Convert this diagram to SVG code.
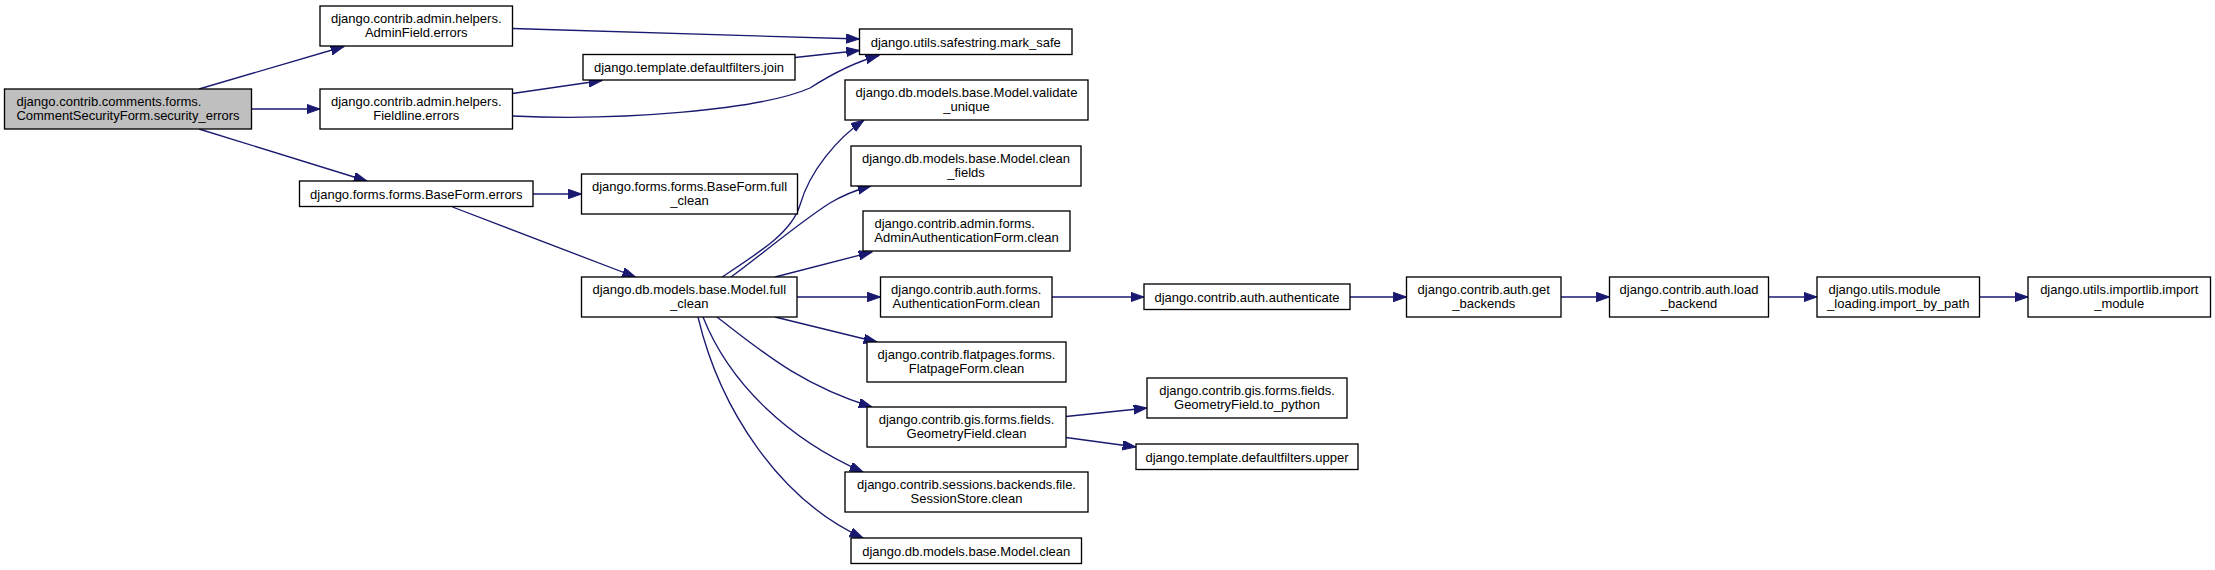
<svg xmlns="http://www.w3.org/2000/svg" width="2215" height="570" viewBox="0 0 2215 570">
<defs>
<style>
.bg{fill:#ffffff}
.node rect{fill:#ffffff;stroke:#000000;stroke-width:1.33}
.node.cur rect{fill:#bfbfbf}
.node text{font-family:"Liberation Sans",Arial,Helvetica,sans-serif;font-size:13px;fill:#000000;text-anchor:middle}
.node text.s{text-anchor:start}
.edges path{fill:none;stroke:#191970;stroke-width:1.33;marker-end:url(#arr)}
</style>
<marker id="arr" markerUnits="userSpaceOnUse" markerWidth="14" markerHeight="10" refX="13.3" refY="4.7" orient="auto">
<path d="M0,0 L13.3,4.7 L0,9.4 z" fill="#191970" stroke="#191970" stroke-width="1"/>
</marker>
</defs>
<rect class="bg" x="0" y="0" width="2215" height="570"/>
<g id="edges" class="edges">
<path d="M199,89 L344,46.5"/>
<path d="M251.5,109 L320,109"/>
<path d="M199,129 L367,181"/>
<path d="M512.5,28.5 L859.5,39"/>
<path d="M512.5,93.5 L602,80.5"/>
<path d="M795,57.5 L859.5,50.5"/>
<path d="M512.5,116 C620,121 760,110 810,88 C835,72 855,62 879,55.5"/>
<path d="M533,194 L581.5,194"/>
<path d="M452.5,207 L635.5,277"/>
<path d="M722,277 C760,252 792,232 800,205 C810,170 838,138 864,120"/>
<path d="M731,277 C765,252 800,222 830,203 C845,194 856,190 871,186"/>
<path d="M775,277 L872,252"/>
<path d="M797,297 L880.5,297"/>
<path d="M775,317 L877,342"/>
<path d="M717,317 C760,350 800,385 872,407"/>
<path d="M703,317 C730,385 790,440 863,472"/>
<path d="M698,317 C720,410 780,500 863,538"/>
<path d="M1052,297 L1144,297"/>
<path d="M1350,297 L1406.5,297"/>
<path d="M1561,297 L1609.5,297"/>
<path d="M1768.5,297 L1817,297"/>
<path d="M1979.5,297 L2028,297"/>
<path d="M1066,416.5 L1147,408"/>
<path d="M1066,437.5 L1136,447"/>
</g>
<g id="n_security_errors" class="node cur"><rect x="4.5" y="89" width="247" height="40"/><text class="s" x="16.5" y="105.5">django.contrib.comments.forms.</text><text x="128" y="119.5">CommentSecurityForm.security_errors</text></g>
<g id="n_adminfield_errors" class="node"><rect x="320" y="6" width="192.5" height="40"/><text x="416.25" y="22.5">django.contrib.admin.helpers.</text><text x="416.25" y="36.5">AdminField.errors</text></g>
<g id="n_fieldline_errors" class="node"><rect x="320" y="89" width="192.5" height="40"/><text x="416.25" y="105.5">django.contrib.admin.helpers.</text><text x="416.25" y="119.5">Fieldline.errors</text></g>
<g id="n_baseform_errors" class="node"><rect x="299.5" y="181" width="233.5" height="25.5"/><text x="416.25" y="198.5">django.forms.forms.BaseForm.errors</text></g>
<g id="n_mark_safe" class="node"><rect x="859.5" y="29" width="212.5" height="25.5"/><text x="965.75" y="46.5">django.utils.safestring.mark_safe</text></g>
<g id="n_join" class="node"><rect x="583" y="54.5" width="212" height="25.5"/><text x="689" y="72">django.template.defaultfilters.join</text></g>
<g id="n_validate_unique" class="node"><rect x="845" y="80" width="243" height="40"/><text x="966.5" y="96.5">django.db.models.base.Model.validate</text><text x="966.5" y="110.5">_unique</text></g>
<g id="n_clean_fields" class="node"><rect x="851" y="146" width="230" height="40"/><text x="966" y="162.5">django.db.models.base.Model.clean</text><text x="966" y="176.5">_fields</text></g>
<g id="n_baseform_full_clean" class="node"><rect x="581.5" y="174" width="216" height="40"/><text x="689.5" y="190.5">django.forms.forms.BaseForm.full</text><text x="689.5" y="204.5">_clean</text></g>
<g id="n_model_full_clean" class="node"><rect x="581.5" y="277" width="215.5" height="40"/><text x="689.25" y="293.5">django.db.models.base.Model.full</text><text x="689.25" y="307.5">_clean</text></g>
<g id="n_admin_auth_clean" class="node"><rect x="863" y="211" width="207" height="40"/><text class="s" x="874.5" y="227.5">django.contrib.admin.forms.</text><text x="966.5" y="241.5">AdminAuthenticationForm.clean</text></g>
<g id="n_auth_form_clean" class="node"><rect x="880.5" y="277" width="171.5" height="40"/><text x="966.25" y="293.5">django.contrib.auth.forms.</text><text x="966.25" y="307.5">AuthenticationForm.clean</text></g>
<g id="n_flatpage_clean" class="node"><rect x="867" y="342" width="199" height="40"/><text x="966.5" y="358.5">django.contrib.flatpages.forms.</text><text x="966.5" y="372.5">FlatpageForm.clean</text></g>
<g id="n_geometry_clean" class="node"><rect x="867" y="407" width="199" height="40"/><text x="966.5" y="423.5">django.contrib.gis.forms.fields.</text><text x="966.5" y="437.5">GeometryField.clean</text></g>
<g id="n_session_clean" class="node"><rect x="845" y="472" width="243" height="40"/><text x="966.5" y="488.5">django.contrib.sessions.backends.file.</text><text x="966.5" y="502.5">SessionStore.clean</text></g>
<g id="n_model_clean" class="node"><rect x="851" y="538" width="230.5" height="25.5"/><text x="966.25" y="555.5">django.db.models.base.Model.clean</text></g>
<g id="n_authenticate" class="node"><rect x="1144" y="284" width="206" height="25.5"/><text x="1247" y="301.5">django.contrib.auth.authenticate</text></g>
<g id="n_get_backends" class="node"><rect x="1406.5" y="277" width="154.5" height="40"/><text x="1483.75" y="293.5">django.contrib.auth.get</text><text x="1483.75" y="307.5">_backends</text></g>
<g id="n_load_backend" class="node"><rect x="1609.5" y="277" width="159" height="40"/><text x="1689" y="293.5">django.contrib.auth.load</text><text x="1689" y="307.5">_backend</text></g>
<g id="n_import_by_path" class="node"><rect x="1817" y="277" width="162.5" height="40"/><text class="s" x="1828.5" y="293.5">django.utils.module</text><text x="1898.25" y="307.5">_loading.import_by_path</text></g>
<g id="n_import_module" class="node"><rect x="2028" y="277" width="182.5" height="40"/><text x="2119.25" y="293.5">django.utils.importlib.import</text><text x="2119.25" y="307.5">_module</text></g>
<g id="n_to_python" class="node"><rect x="1147" y="378" width="200" height="40"/><text x="1247" y="394.5">django.contrib.gis.forms.fields.</text><text x="1247" y="408.5">GeometryField.to_python</text></g>
<g id="n_upper" class="node"><rect x="1136" y="444" width="222" height="25.5"/><text x="1247" y="461.5">django.template.defaultfilters.upper</text></g>
</svg>
